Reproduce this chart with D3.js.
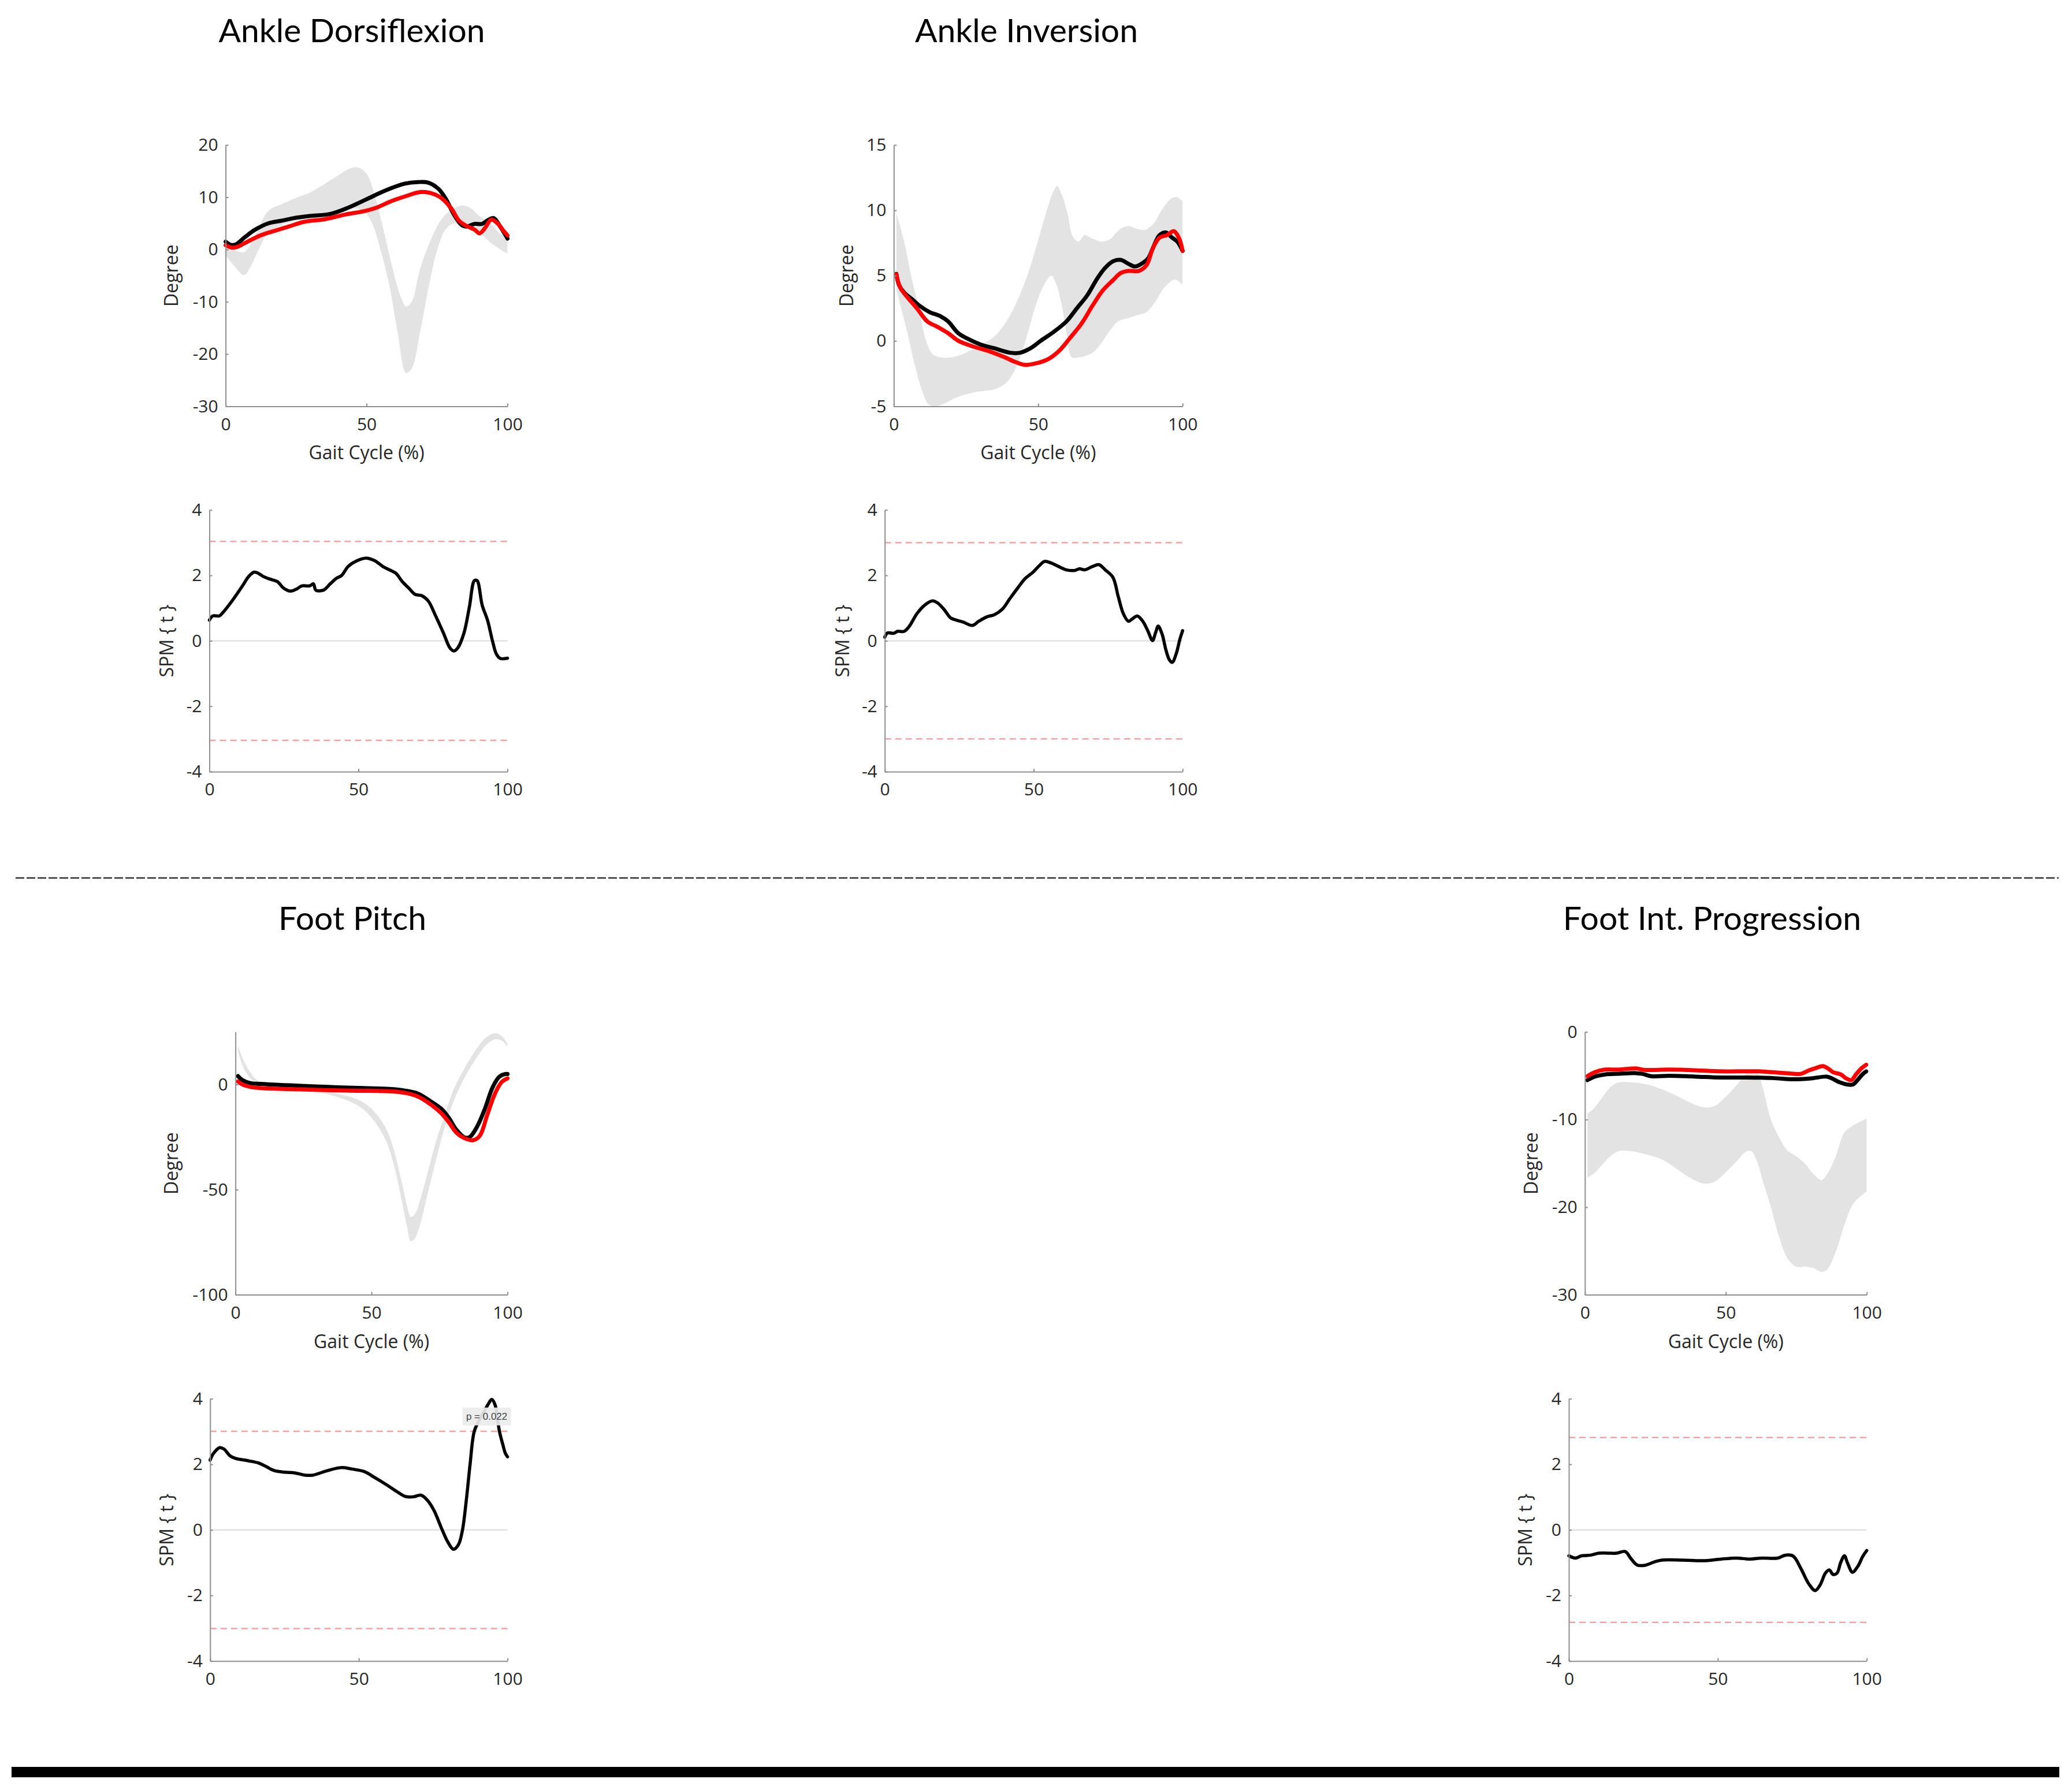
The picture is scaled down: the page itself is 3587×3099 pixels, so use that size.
<!DOCTYPE html>
<html>
<head>
<meta charset="utf-8">
<script src="https://cdn.jsdelivr.net/npm/d3@7"></script>
<style>
  body { margin: 0; background: #fff; }
</style>
</head>
<body>
<div id="chart"></div>
<script>
// ---- data ----
// curves are [gait cycle %, value]
const xTicks = [0, 50, 100];
const spmTicks = [-4, -2, 0, 2, 4];

// Ankle Dorsiflexion
const dorsiTicks = [-30, -20, -10, 0, 10, 20];
const dorsiBlack = [[0,1.5],[1.8,0.9],[3.7,1.0],[6.9,2.4],[10.5,3.8],[15.1,5.0],[19.7,5.5],[24.2,6.0],[29.7,6.4],[37.1,6.8],[43.5,8.0],[49.9,9.6],[57.2,11.4],[63.6,12.6],[68.2,12.9],[71.8,12.8],[75.5,11.6],[78.2,9.6],[81,6.7],[83.7,4.7],[85.5,4.4],[88.3,4.9],[91,4.9],[93.3,5.7],[95.1,6.0],[97.4,4.4],[100,2.1]];
const dorsiRed = [[0,0.8],[2.3,0.35],[4.1,0.5],[7.8,1.5],[12.4,2.7],[16.9,3.5],[22.4,4.4],[27.9,5.3],[35.2,5.8],[42.5,6.7],[48.9,7.3],[53.5,8.0],[59,9.3],[64.5,10.3],[69,11.0],[72.7,10.8],[76.4,9.9],[80,7.9],[82.8,5.5],[85.5,4.5],[88.3,3.8],[90.1,3.1],[92,4.1],[94.2,5.7],[96.5,5.0],[98.4,3.7],[100,2.7]];
const dorsiBandUp = [[0,1.5],[3,0.0],[6.5,-0.5],[10,2.1],[15,7.3],[20,8.7],[25,9.9],[30,10.9],[35,12.5],[40,14.2],[44,15.5],[47,15.7],[50,14.5],[53,10.2],[56,3.8],[59,-3.1],[62,-8.9],[64,-10.9],[66,-10],[69,-3.7],[73,2.1],[77,6.1],[81,7.9],[84,8.4],[87,7.9],[90,6.4],[94,5.0],[97,3.2],[100,2.1]];
const dorsiBandLo = [[0,-1.1],[3,-3.1],[6.5,-4.9],[9,-3.1],[12,0.3],[15,3.2],[20,4.7],[25,5.5],[30,6.1],[35,6.7],[40,7.3],[45,7.9],[49,7.3],[52,5.0],[55,-0.2],[58,-6.6],[61,-15.8],[64,-23.6],[66,-22.8],[69,-15.8],[72,-7.2],[75,-0.2],[78,3.8],[81,5.0],[85,4.5],[90,3.2],[95,0.9],[100,-0.8]];
const dorsiSpm = [[0,0.63],[1.1,0.76],[3.3,0.76],[4.2,0.83],[7.6,1.22],[11.1,1.68],[13.2,1.97],[15,2.10],[16.3,2.07],[18,1.97],[20.2,1.89],[22.8,1.81],[24.9,1.61],[27.1,1.52],[29.2,1.58],[31,1.68],[33.6,1.68],[34.9,1.74],[35.7,1.55],[38.3,1.55],[40.5,1.74],[42.6,1.91],[44.4,2.0],[46.5,2.27],[49.1,2.43],[52.6,2.53],[55.2,2.46],[56.9,2.36],[58.2,2.27],[60.4,2.17],[62.5,2.07],[64.7,1.81],[66.9,1.61],[69,1.42],[71.2,1.38],[73.4,1.22],[75.9,0.76],[78.5,0.24],[80.7,-0.22],[82,-0.31],[83.3,-0.22],[85.4,0.24],[87.2,1.03],[88.9,1.84],[89.8,1.84],[91.5,1.09],[93.3,0.63],[95,-0.02],[96.3,-0.41],[97.6,-0.54],[100,-0.53]];
const dorsiThreshold = 3.04;

// Ankle Inversion
const invTicks = [-5, 0, 5, 10, 15];
const invBlack = [[0.9,5.13],[1.8,4.3],[3.6,3.7],[6.3,3.2],[8.9,2.7],[12.5,2.2],[16.1,1.9],[18.8,1.5],[22.3,0.6],[25.9,0.14],[30.4,-0.3],[34.8,-0.56],[40.2,-0.9],[43.8,-0.9],[47.3,-0.56],[50.9,0.02],[55.4,0.7],[59.8,1.5],[63.4,2.5],[67,3.5],[70.5,4.8],[73.2,5.6],[75.9,6.1],[78.6,6.2],[81.3,5.9],[83.5,5.7],[85.7,5.9],[88,6.3],[89.7,7.1],[92,8.1],[94.2,8.3],[96.4,7.9],[98.2,7.6],[100,6.9]];
const invRed = [[0.9,5.1],[2.2,4.1],[4.5,3.4],[8,2.5],[11.6,1.5],[15.2,1.07],[18.8,0.6],[22.3,0.02],[27.7,-0.44],[33,-0.79],[38.4,-1.25],[42,-1.6],[45.5,-1.83],[49.1,-1.72],[53.6,-1.37],[57.1,-0.79],[60.7,0.14],[65.2,1.4],[68.8,2.7],[72.3,3.85],[75.9,4.65],[78.6,5.2],[81.3,5.36],[84.8,5.36],[87.5,5.8],[89.7,7.1],[92,7.9],[94.6,8.1],[96.9,8.4],[98.7,7.9],[100,6.9]];
const invBandUp = [[0.9,9.8],[3.6,7.6],[6,5.0],[9,2.2],[11,0.14],[13.4,-1.0],[16,-1.25],[20,-1.25],[25,-0.9],[30,-0.3],[35,0.37],[39,1.5],[43,3.2],[47,5.5],[51,8.5],[55,11.3],[56.5,11.85],[58,11.3],[60,9.9],[62,8.0],[64,7.6],[66,8.1],[69,7.8],[72,7.6],[75,7.8],[78,8.5],[81,8.8],[84,8.6],[87,8.5],[90,9.0],[93,10.1],[96,10.9],[98,11.0],[100,10.7]];
const invBandLo = [[0.9,3.9],[4.5,0.84],[7.1,-1.7],[9.8,-3.8],[12,-4.85],[14.3,-5.0],[17,-4.85],[22,-4.3],[28.6,-3.9],[34.8,-3.7],[38.4,-3.3],[41,-2.6],[43.8,-1.25],[46.4,0.6],[49.1,2.7],[51.8,4.2],[54.5,5.0],[56,4.5],[58,2.9],[60,0.37],[61.6,-1.25],[64.3,-1.25],[68.75,-0.9],[71.4,-0.3],[75,0.84],[77.7,1.5],[81.3,1.76],[84.8,2.0],[87.5,2.2],[90.2,2.9],[93.75,4.1],[97.3,4.7],[100,4.3]];
const invSpm = [[0,0.11],[0.9,0.24],[3,0.23],[4.3,0.29],[6.5,0.29],[8.2,0.44],[10.8,0.83],[13.4,1.09],[16,1.22],[17.7,1.16],[19.9,0.96],[22.1,0.7],[24.2,0.63],[26.4,0.57],[29.4,0.47],[31.6,0.6],[34.2,0.73],[36.8,0.8],[39.4,0.96],[42,1.29],[44.6,1.61],[47.2,1.91],[49.8,2.1],[51.9,2.3],[53.7,2.43],[55.8,2.38],[58.4,2.27],[61,2.17],[63.6,2.15],[65.4,2.2],[67.1,2.17],[69.7,2.27],[71.9,2.33],[74,2.17],[76.6,1.94],[78.4,1.35],[80.1,0.83],[81.8,0.6],[83.1,0.67],[84.8,0.76],[86.6,0.6],[88.3,0.31],[89.9,0.01],[90.9,0.24],[91.8,0.45],[93.1,0.21],[94.4,-0.28],[95.5,-0.57],[96.5,-0.66],[97.8,-0.41],[99.1,0.05],[100,0.31]];
const invThreshold = 3.0;

// Foot Pitch
const pitchTicks = [-100, -50, 0];
const pitchBlack = [[0.95,4.0],[2.6,2.1],[5.4,0.7],[9.2,0.3],[18.7,-0.3],[32.9,-1.1],[47.1,-1.7],[56.6,-2.1],[62.3,-2.9],[67,-4.3],[70.8,-7.2],[75.6,-11.5],[78.4,-15.8],[81.2,-21.5],[84.1,-25.1],[86,-25.1],[88.8,-20.1],[91.7,-11.5],[94.5,-1.4],[96.9,3.6],[99.2,5.0],[100,5.0]];
const pitchRed = [[0.95,1.4],[2.6,0],[5.4,-1.1],[9.2,-1.7],[23.4,-2.3],[42.4,-2.9],[56.6,-3.2],[62.3,-4.0],[67,-5.7],[70.8,-8.6],[75.6,-13.6],[78.4,-17.9],[81.2,-22.9],[84.1,-25.5],[87.4,-26.5],[89.8,-24.4],[92.6,-14.3],[95.4,-4.3],[97.8,1.1],[100,2.9]];
const pitchBandUp = [[0.9,18.6],[3,11.5],[5.5,5.7],[8,2.1],[15,-0.3],[25,-1.4],[35,-3.6],[45,-7.2],[50,-11.5],[55,-20.1],[58,-30.1],[61,-45.8],[63,-57.3],[64.5,-63],[66,-61.6],[68,-54.4],[71,-40.1],[74,-25.8],[77,-14.3],[80,-2.9],[84,7.2],[88,15.8],[92,22.2],[95.5,24.4],[98,22.9],[100,19.3]];
const pitchBandLo = [[0.9,15.8],[3,7.9],[5.5,2.9],[8,0.7],[15,-1.1],[25,-2.6],[35,-5.0],[45,-10.0],[50,-15.8],[55,-25.8],[58,-37.2],[61,-54.4],[63,-67.3],[64.5,-74.5],[66,-73.1],[68,-65.9],[71,-50.1],[74,-34.4],[77,-20.1],[80,-8.6],[84,2.9],[88,11.5],[92,18.6],[95.5,21.5],[98,20.8],[100,17.9]];
const pitchSpm = [[0,2.13],[1.1,2.33],[3.2,2.51],[4.6,2.47],[6.7,2.26],[8.5,2.18],[12.8,2.11],[16.3,2.04],[18.9,1.93],[21.5,1.81],[25,1.76],[28.4,1.74],[31.9,1.67],[34.5,1.67],[38.8,1.79],[44,1.90],[47.5,1.86],[51.8,1.78],[55.3,1.6],[59.6,1.36],[63.1,1.15],[65.7,1.02],[68.3,1.01],[70.9,1.06],[73.1,0.9],[75.3,0.59],[77.9,0.03],[80,-0.38],[81.8,-0.59],[83.5,-0.45],[84.8,-0.03],[86.1,0.87],[87.4,1.99],[88.8,3.0],[90.5,3.35],[92.2,3.62],[93.6,3.85],[94.7,3.98],[95.8,3.82],[96.6,3.4],[97.3,3.0],[98.4,2.61],[99.3,2.33],[100,2.23]];
const pitchThreshold = 3.01;
const pitchPLabel = "p = 0.022";
const pitchPAt = [93, 3.46];

// Foot Int. Progression
const progTicks = [-30, -20, -10, 0];
const progBlack = [[0.9,-5.5],[3.5,-5.1],[7.1,-4.85],[11.7,-4.78],[18.1,-4.7],[20.4,-4.78],[23.6,-5.05],[30,-5.0],[39.2,-5.1],[48.3,-5.2],[57.5,-5.2],[66.6,-5.26],[73.9,-5.4],[80.3,-5.3],[85.8,-5.1],[87.6,-5.3],[90.4,-5.75],[93.1,-6.0],[95.1,-6.0],[96.7,-5.5],[98.6,-4.8],[99.8,-4.5]];
const progRed = [[0.9,-5.05],[3.5,-4.6],[7.1,-4.3],[11.7,-4.3],[18.1,-4.16],[20.9,-4.33],[30,-4.3],[39.2,-4.37],[48.3,-4.5],[62,-4.5],[71.2,-4.7],[76.6,-4.78],[79.4,-4.4],[82.1,-4.1],[84.4,-3.9],[86.2,-4.16],[88.1,-4.6],[90.8,-4.85],[92.7,-5.3],[94.5,-5.5],[96.3,-4.8],[98.1,-4.16],[99.8,-3.74]];
const progBandUp = [[0.9,-9.3],[3,-8.8],[6,-7.55],[9,-6.3],[12,-5.75],[16,-5.75],[22,-6.0],[27,-6.5],[32,-7.2],[37,-8.0],[42,-8.6],[46,-8.45],[50,-7.4],[54,-6.0],[57,-4.8],[59,-4.3],[61,-4.4],[63,-6.2],[66,-10.0],[69,-12.1],[72,-13.6],[75,-14.2],[78,-15.0],[81,-16.2],[84,-16.9],[86,-16.2],[89,-14.2],[92,-11.5],[95,-10.7],[98,-10.2],[100,-9.9]];
const progBandLo = [[0.9,-16.6],[3,-16.2],[6,-15.2],[9,-14.2],[12,-13.6],[16,-13.6],[22,-14.0],[27,-14.5],[32,-15.5],[37,-16.6],[42,-17.3],[46,-17.1],[50,-16.0],[54,-14.7],[57,-13.7],[59,-13.6],[61,-14.7],[63,-16.9],[66,-20.0],[69,-23.5],[72,-25.9],[75,-26.8],[78,-26.8],[81,-26.95],[84,-27.4],[86,-27.1],[89,-25.1],[92,-22.1],[95,-19.7],[98,-18.7],[100,-18.2]];
const progSpm = [[0,-0.79],[2.2,-0.86],[4.3,-0.79],[7.4,-0.77],[10,-0.71],[13,-0.71],[16,-0.71],[18.9,-0.66],[20.8,-0.87],[22.9,-1.07],[25.5,-1.08],[28.6,-0.98],[31.2,-0.92],[38.1,-0.92],[45,-0.94],[51.1,-0.89],[56.3,-0.86],[60.6,-0.89],[64.9,-0.86],[70.1,-0.86],[72.7,-0.77],[75.3,-0.8],[77.9,-1.18],[80.5,-1.64],[82.7,-1.85],[84.4,-1.67],[86.1,-1.32],[87.4,-1.22],[88.7,-1.36],[90,-1.32],[91.3,-0.98],[92.5,-0.79],[93.5,-1.0],[95.2,-1.29],[97,-1.11],[98.7,-0.8],[100,-0.63]];
const progThreshold = 2.82;

// ---- layout ----
const svgWidth = 3587;
const svgHeight = 3099;
const axisColor = "#8f8f8f";
const tickTextColor = "#262626";
const labelFont = "'Open Sans', sans-serif";
const titleFont = "Lato, 'Open Sans', sans-serif";

const panels = [
  { title: "Ankle Dorsiflexion", titleX: 609, titleY: 73,
    deg: { x0: 390.6, x1: 878.6, y0: 251, y1: 703.4, domain: [-30, 20], ticks: dorsiTicks, labelX: 308 },
    spm: { x0: 362.5, x1: 878.6, y0: 882.9, y1: 1336, labelX: 300 },
    black: dorsiBlack, red: dorsiRed, bandUp: dorsiBandUp, bandLo: dorsiBandLo, spmCurve: dorsiSpm, threshold: dorsiThreshold },
  { title: "Ankle Inversion", titleX: 1777, titleY: 73,
    deg: { x0: 1547.3, x1: 2047.3, y0: 251, y1: 703.4, domain: [-5, 15], ticks: invTicks, labelX: 1477 },
    spm: { x0: 1531.7, x1: 2047.3, y0: 882.9, y1: 1336, labelX: 1470 },
    black: invBlack, red: invRed, bandUp: invBandUp, bandLo: invBandLo, spmCurve: invSpm, threshold: invThreshold },
  { title: "Foot Pitch", titleX: 610, titleY: 1610,
    deg: { x0: 407.6, x1: 878.6, y0: 1786.6, y1: 2241.6, domain: [-100, 25], ticks: pitchTicks, labelX: 308 },
    spm: { x0: 363.8, x1: 878.6, y0: 2421.7, y1: 2875.7, labelX: 300 },
    black: pitchBlack, red: pitchRed, bandUp: pitchBandUp, bandLo: pitchBandLo, spmCurve: pitchSpm, threshold: pitchThreshold,
    pLabel: pitchPLabel, pAt: pitchPAt },
  { title: "Foot Int. Progression", titleX: 2964, titleY: 1610,
    deg: { x0: 2743.75, x1: 3231.7, y0: 1786.6, y1: 2241.6, domain: [-30, 0], ticks: progTicks, labelX: 2662 },
    spm: { x0: 2716, x1: 3231.7, y0: 2421.7, y1: 2875.7, labelX: 2652 },
    black: progBlack, red: progRed, bandUp: progBandUp, bandLo: progBandLo, spmCurve: progSpm, threshold: progThreshold }
];

const svg = d3.select("#chart")
  .append("svg")
  .attr("width", svgWidth)
  .attr("height", svgHeight)
  .style("background", "#fff");

// plain hyphen minus like the original, not the unicode minus
const plainFormat = v => String(v);

// style an axis group the MATLAB way: thin grey lines, inward ticks
function styleAxis(g) {
  g.select(".domain").attr("stroke", axisColor).attr("stroke-width", 2);
  g.selectAll(".tick line").attr("stroke", axisColor).attr("stroke-width", 2);
  g.selectAll(".tick text")
    .attr("fill", tickTextColor)
    .attr("font-family", labelFont)
    .attr("font-size", 30);
}

function drawAxes(g, box, x, y, ticks, clipId) {
  g.append("g")
    .attr("transform", `translate(0,${box.y1})`)
    .call(d3.axisBottom(x).tickValues(xTicks).tickFormat(plainFormat)
      .tickSize(-5).tickSizeOuter(0).tickPadding(20))
    .call(styleAxis);

  g.append("g")
    .attr("transform", `translate(${box.x0},0)`)
    .call(d3.axisLeft(y).tickValues(ticks).tickFormat(plainFormat)
      .tickSize(-5).tickSizeOuter(0).tickPadding(13))
    .call(styleAxis);

  g.append("clipPath").attr("id", clipId)
    .append("rect")
    .attr("x", box.x0).attr("y", box.y0)
    .attr("width", box.x1 - box.x0).attr("height", box.y1 - box.y0);
}

function yLabel(g, box, text) {
  g.append("text")
    .attr("transform", `translate(${box.labelX},${(box.y0 + box.y1) / 2}) rotate(-90)`)
    .attr("text-anchor", "middle")
    .attr("font-family", labelFont)
    .attr("font-size", 32)
    .attr("fill", tickTextColor)
    .text(text);
}

panels.forEach((p, i) => {
  const g = svg.append("g");

  // title
  g.append("text")
    .attr("x", p.titleX)
    .attr("y", p.titleY)
    .attr("text-anchor", "middle")
    .attr("font-family", titleFont)
    .attr("font-size", 57)
    .attr("fill", "#000")
    .text(p.title);

  // ---- joint angle plot ----
  const d = p.deg;
  const x = d3.scaleLinear().domain([0, 100]).range([d.x0, d.x1]);
  const y = d3.scaleLinear().domain(d.domain).range([d.y1, d.y0]);
  const line = d3.line().x(v => x(v[0])).y(v => y(v[1])).curve(d3.curveCatmullRom.alpha(0.5));

  const clipDeg = `clip-deg-${i}`;
  const plot = g.append("g");
  // normative band: upper edge forward, lower edge back
  const upPath = line(p.bandUp);
  const loPath = line(p.bandLo.slice().reverse());
  plot.append("path")
    .attr("d", upPath + "L" + loPath.slice(1) + "Z")
    .attr("fill", "#e3e3e3")
    .attr("clip-path", `url(#${clipDeg})`);

  plot.append("path").attr("d", line(p.black))
    .attr("fill", "none").attr("stroke", "#000").attr("stroke-width", 7)
    .attr("stroke-linejoin", "round").attr("stroke-linecap", "round");
  plot.append("path").attr("d", line(p.red))
    .attr("fill", "none").attr("stroke", "#ff0000").attr("stroke-width", 7)
    .attr("stroke-linejoin", "round").attr("stroke-linecap", "round");

  drawAxes(g, d, x, y, d.ticks, clipDeg);
  yLabel(g, d, "Degree");

  g.append("text")
    .attr("x", (d.x0 + d.x1) / 2)
    .attr("y", d.y1 + 92)
    .attr("text-anchor", "middle")
    .attr("font-family", labelFont)
    .attr("font-size", 32)
    .attr("fill", tickTextColor)
    .text("Gait Cycle (%)");

  // ---- SPM{t} plot ----
  const s = p.spm;
  const xs = d3.scaleLinear().domain([0, 100]).range([s.x0, s.x1]);
  const ys = d3.scaleLinear().domain([-4, 4]).range([s.y1, s.y0]);
  const spmLine = d3.line().x(v => xs(v[0])).y(v => ys(v[1])).curve(d3.curveCatmullRom.alpha(0.5));

  g.append("line")
    .attr("x1", xs(0)).attr("x2", xs(100))
    .attr("y1", ys(0)).attr("y2", ys(0))
    .attr("stroke", "#dcdcdc").attr("stroke-width", 2);

  [p.threshold, -p.threshold].forEach(t => {
    g.append("line")
      .attr("x1", xs(0)).attr("x2", xs(100))
      .attr("y1", ys(t)).attr("y2", ys(t))
      .attr("stroke", "#f3a3a3").attr("stroke-width", 2.5)
      .attr("stroke-dasharray", "11,7");
  });

  g.append("path").attr("d", spmLine(p.spmCurve))
    .attr("fill", "none").attr("stroke", "#000").attr("stroke-width", 5.5)
    .attr("stroke-linejoin", "round").attr("stroke-linecap", "round");

  drawAxes(g, s, xs, ys, spmTicks, `clip-spm-${i}`);
  yLabel(g, s, "SPM { t }");

  // p-value annotation
  if (p.pLabel) {
    const cx = xs(p.pAt[0]), cy = ys(p.pAt[1]);
    g.append("rect")
      .attr("x", cx - 42).attr("y", cy - 15.5)
      .attr("width", 84).attr("height", 31)
      .attr("fill", "#ececec").attr("opacity", 0.92);
    g.append("text")
      .attr("x", cx).attr("y", cy + 6)
      .attr("text-anchor", "middle")
      .attr("font-family", "'Liberation Sans', Arial, sans-serif")
      .attr("font-size", 17)
      .attr("fill", "#444")
      .text(p.pLabel);
  }
});

// dashed separator between the two rows
svg.append("line")
  .attr("x1", 27).attr("x2", 3564)
  .attr("y1", 1520).attr("y2", 1520)
  .attr("stroke", "#333").attr("stroke-width", 2.5)
  .attr("stroke-dasharray", "15,4");

// thick bar at the bottom
svg.append("rect")
  .attr("x", 20).attr("y", 3059)
  .attr("width", 3545).attr("height", 18)
  .attr("fill", "#000");
</script>
</body>
</html>
